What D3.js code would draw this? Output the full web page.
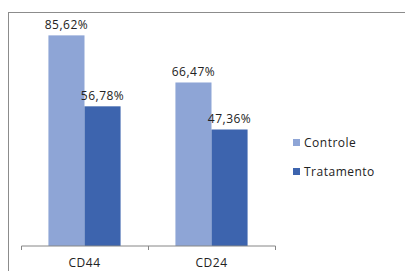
<!DOCTYPE html>
<html>
<head>
<meta charset="utf-8">
<script src="https://cdn.jsdelivr.net/npm/d3@7"></script>
<style>
  body { margin: 0; background: #fff; }
  text { font-family: "Open Sans", "DejaVu Sans", sans-serif; fill: #222; letter-spacing: 0.5px; }
</style>
</head>
<body>
<script>
'use strict';

var categories = ['CD44', 'CD24'];
var seriesNames = ['Controle', 'Tratamento'];
var controleValues = [85.62, 66.47];
var tratamentoValues = [56.78, 47.36];
var colors = ['#8ea5d6', '#3d64ae'];

var width = 405,
    height = 271;

var svg = d3.select('body').append('svg')
    .attr('width', width)
    .attr('height', height);

// outer frame (runs off the right and bottom edge like the screenshot)
svg.append('rect')
    .attr('x', 8.5)
    .attr('y', 12.5)
    .attr('width', width)
    .attr('height', height)
    .attr('fill', 'none')
    .attr('stroke', '#8c8c8c');

var data = categories.map(function (c, i) {
    return { cat: c, values: [controleValues[i], tratamentoValues[i]] };
});

var x0 = d3.scaleBand().domain(categories).range([21, 275]);
var x1 = d3.scaleBand().domain(seriesNames).range([0, x0.bandwidth()])
    .paddingInner(0).paddingOuter(0.76);
var y = d3.scaleLinear().domain([0, 100]).range([246, 0]);

var groups = svg.selectAll('.grp')
    .data(data)
    .enter().append('g')
    .attr('class', 'grp')
    .attr('transform', function (d) { return 'translate(' + x0(d.cat) + ',0)'; });

groups.selectAll('rect')
    .data(function (d) { return d.values.map(function (v, i) { return { s: seriesNames[i], v: v, i: i }; }); })
    .enter().append('rect')
    .attr('x', function (d) { return x1(d.s); })
    .attr('y', function (d) { return y(d.v); })
    .attr('width', x1.bandwidth())
    .attr('height', function (d) { return y(0) - y(d.v); })
    .attr('fill', function (d) { return colors[d.i]; });

groups.selectAll('.lbl')
    .data(function (d) { return d.values.map(function (v, i) { return { s: seriesNames[i], v: v }; }); })
    .enter().append('text')
    .attr('class', 'lbl')
    .attr('x', function (d) { return x1(d.s) + x1.bandwidth() / 2; })
    .attr('y', function (d) { return y(d.v) - 6.5; })
    .attr('text-anchor', 'middle')
    .style('font-size', '12px')
    .text(function (d) { return d3.format('.2f')(d.v).replace('.', ',') + '%'; });

// x axis
var xAxis = svg.append('g')
    .attr('transform', 'translate(0,246)')
    .call(d3.axisBottom(x0).tickSize(0).tickPadding(12));
xAxis.select('.domain').attr('stroke', '#868686').attr('d', 'M21.5,0H275.5');
xAxis.selectAll('text').style('font-size', '12px').style('font-family', '"Open Sans", "DejaVu Sans", sans-serif').attr('fill', '#222');

// boundary ticks between categories
var bounds = categories.map(function (c) { return x0(c); }).concat([x0.range()[1]]);
xAxis.selectAll('.bnd')
    .data(bounds)
    .enter().append('line')
    .attr('class', 'bnd')
    .attr('x1', function (d) { return Math.round(d) + 0.5; })
    .attr('x2', function (d) { return Math.round(d) + 0.5; })
    .attr('y1', 0)
    .attr('y2', 4)
    .attr('stroke', '#868686');

// legend
var legend = svg.selectAll('.leg')
    .data(seriesNames)
    .enter().append('g')
    .attr('class', 'leg')
    .attr('transform', function (d, i) { return 'translate(293,' + (139 + i * 29) + ')'; });

legend.append('rect')
    .attr('width', 7)
    .attr('height', 7)
    .attr('fill', function (d, i) { return colors[i]; });

legend.append('text')
    .attr('x', 11)
    .attr('y', 4)
    .attr('dy', '0.35em')
    .style('font-size', '12px')
    .text(function (d) { return d; });
</script>
</body>
</html>
